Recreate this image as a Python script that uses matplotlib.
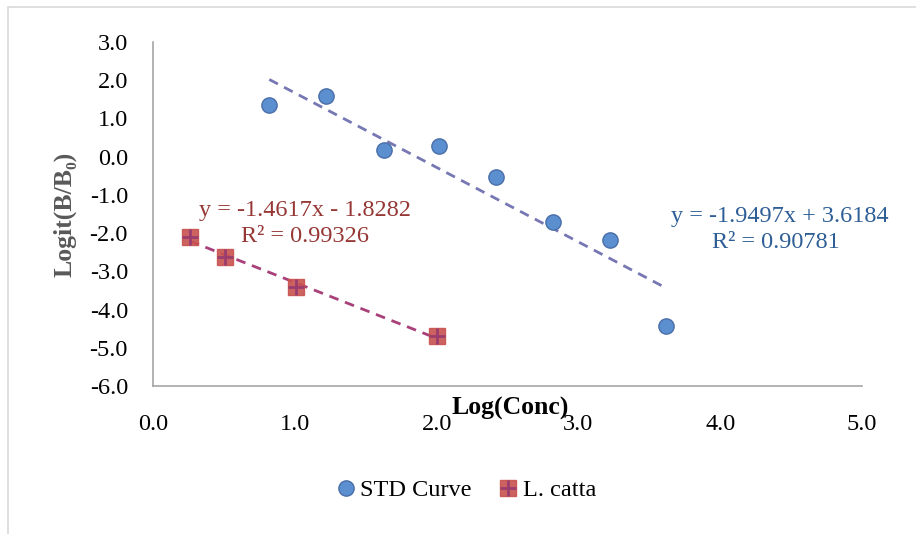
import numpy as np
import matplotlib.pyplot as plt
from matplotlib.lines import Line2D
from matplotlib.patches import Rectangle

# STD curve points
std_x = [0.82, 1.22, 1.63, 2.02, 2.42, 2.82, 3.22, 3.62]
std_y = [1.35, 1.59, 0.17, 0.28, -0.53, -1.71, -2.18, -4.43]
# L. catta points
cat_x = [0.26, 0.51, 1.01, 2.00]
cat_y = [-2.10, -2.63, -3.41, -4.70]

# trendline coefficients (slope, intercept) as printed on the chart
std_fit = (-1.9497, 3.6184)
cat_fit = (-1.4617, -1.8282)

serif = ['Liberation Serif', 'DejaVu Serif']
plt.rcParams['font.family'] = serif

fig = plt.figure(figsize=(9.16, 5.34), dpi=100)
ax = fig.add_axes([153/916, 1-386/534, 709/916, 344/534])

# chart border
fig.patches.append(Rectangle((8/916, -0.1), 1.2, 1 - 7/534 + 0.1, transform=fig.transFigure,
                             fill=False, edgecolor='#D9D9D9', lw=1.2))

# trendlines
xs = np.array([min(std_x), max(std_x)])
ax.plot(xs, std_fit[0]*xs + std_fit[1], ls=(0, (3.5, 2.5)), color='#7677B3', lw=2)
xc = np.array([min(cat_x), max(cat_x)])
ax.plot(xc, cat_fit[0]*xc + cat_fit[1], ls=(0, (3.5, 2.5)), color='#A8417A', lw=2)

# markers
ax.plot(std_x, std_y, 'o', ms=11, mfc='#5B8FCF', mec='#4A6FA8', mew=1, zorder=3)
ax.plot(cat_x, cat_y, 's', ms=11, mfc='#C8524F', mec='#C8524F', alpha=0.9, zorder=3)
ax.plot(cat_x, cat_y, '+', ms=11, mec='#9B3C6E', mew=2, zorder=4)

ax.set_xlim(0, 5)
ax.set_ylim(-6, 3)
ax.set_xticks(np.arange(0, 5.1, 1))
ax.set_yticks(np.arange(-6, 3.1, 1))
ax.set_xticklabels([f'{v:.1f}' for v in np.arange(0, 5.1, 1)])
ax.set_yticklabels([f'{v:.1f}' for v in np.arange(-6, 3.1, 1)])
ax.tick_params(axis='both', length=0, labelsize=17.5, colors='black')
ax.tick_params(axis='y', pad=18)
ax.tick_params(axis='x', pad=20)

for s in ['top', 'right']:
    ax.spines[s].set_visible(False)
for s in ['left', 'bottom']:
    ax.spines[s].set_color('#A6A6A6')
    ax.spines[s].set_linewidth(1.2)

ax.set_xlabel('Log(Conc)', fontsize=18.5, fontweight='bold', color='black')
ax.xaxis.set_label_coords(357/709, -22/344)
ax.xaxis.label.set_va('center')
ax.set_ylabel('Logit(B/B₀)', fontsize=18.5, fontweight='bold', color='#595959')
ax.yaxis.set_label_coords(-88/709, 0.5)
ax.yaxis.label.set_va('center')

# equation labels
ax.text(1.07, -1.42, 'y = -1.4617x - 1.8282', color='#953735', fontsize=17.5, va='center', ha='center')
ax.text(1.07, -2.10, 'R² = 0.99326', color='#953735', fontsize=17.5, va='center', ha='center')
ax.text(4.42, -1.56, 'y = -1.9497x + 3.6184', color='#2E5E96', fontsize=17.5, va='center', ha='center')
ax.text(4.39, -2.24, 'R² = 0.90781', color='#2E5E96', fontsize=17.5, va='center', ha='center')

handles = [
    Line2D([], [], marker='o', ls='none', ms=11, mfc='#5B8FCF', mec='#4A6FA8'),
    (Line2D([], [], marker='s', ls='none', ms=11, mfc='#C8524F', mec='#C8524F', alpha=0.9),
     Line2D([], [], marker='+', ls='none', ms=11, mec='#9B3C6E', mew=2)),
]
fig.legend(handles, ['STD Curve', 'L. catta'], loc='center', bbox_to_anchor=(465/916, 1-490/534),
           ncol=2, frameon=False, fontsize=17.5, handletextpad=0.1, columnspacing=1.0,
           handlelength=1.0)

fig.savefig('out.png', dpi=100)
